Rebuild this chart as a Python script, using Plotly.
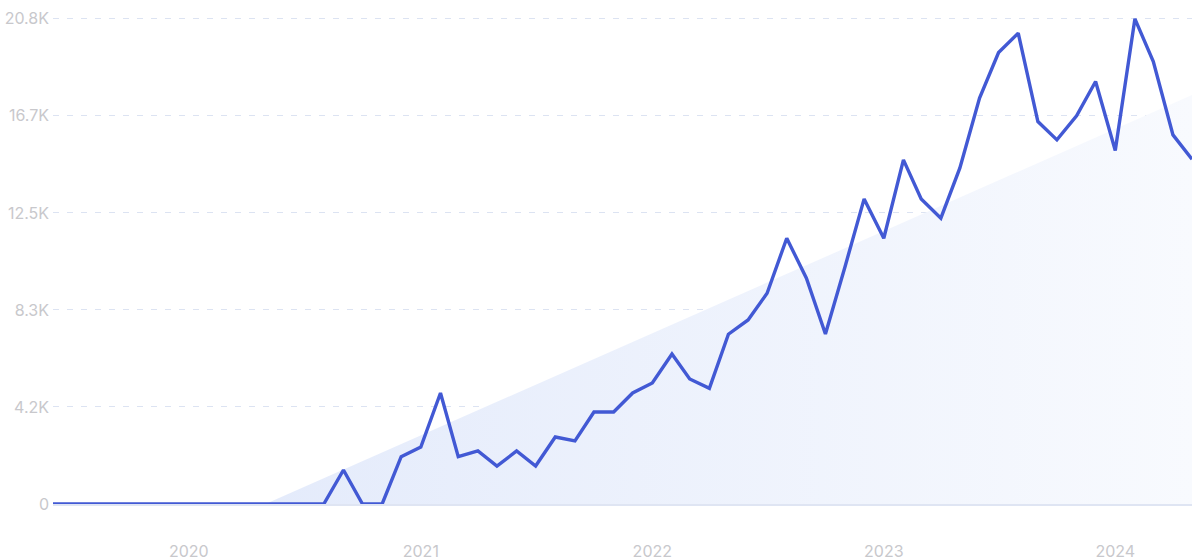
import plotly.graph_objects as go
import pandas as pd

# Monthly values, June 2019 .. May 2024
months = pd.date_range("2019-06-01", "2024-05-01", freq="MS").strftime("%Y-%m-%d").tolist()
values = [
    0, 0, 0, 0, 0, 0, 0,            # Jun-Dec 2019
    0, 0, 0, 0, 0, 0, 0, 0,         # Jan-Aug 2020
    1460, 0, 0, 2030,               # Sep-Dec 2020
    2447, 4765, 2030, 2275, 1631, 2275, 1631, 2876, 2705, 3950, 3950, 4765,   # 2021
    5194, 6440, 5366, 4966, 7285, 7899, 9045, 11406, 9690, 7298, 10196, 13094,  # 2022
    11406, 14768, 13094, 12265, 14425, 17417, 19376, 20206, 16412, 15627, 16657, 18130,  # 2023
    15168, 20820, 18988, 15841, 14798,   # Jan-May 2024
]

# Trend (linear fit, clipped at zero)
trend_x = ["2020-05-01", "2024-05-01", "2024-05-01"]
trend_y = [0, 17550, 0]

y_tickvals = [0, 4164, 8328, 12492, 16656, 20820]
y_ticktext = ["0", "4.2K", "8.3K", "12.5K", "16.7K", "20.8K"]
x_tickvals = ["2020-01-01", "2021-01-01", "2022-01-01", "2023-01-01", "2024-01-01"]
x_ticktext = ["2020", "2021", "2022", "2023", "2024"]

fig = go.Figure()
fig.add_trace(go.Scatter(
    x=trend_x, y=trend_y, mode="lines", fill="toself",
    line=dict(width=0, color="rgba(0,0,0,0)"),
    fillgradient=dict(type="horizontal",
                      colorscale=[[0, "#e4ebfb"], [1, "#f8fafe"]]),
    hoverinfo="skip", showlegend=False,
))
fig.add_trace(go.Scatter(
    x=months, y=values, mode="lines",
    line=dict(color="#4259d4", width=3.4),
    showlegend=False,
))

tick_font = dict(family="Inter, sans-serif", size=16, color="#c8c8cc")
fig.update_layout(
    width=1200, height=560,
    margin=dict(l=53, r=8, t=17, b=56),
    plot_bgcolor="white", paper_bgcolor="white",
    xaxis=dict(
        type="date", range=["2019-06-01", "2024-05-01"],
        tickvals=x_tickvals, ticktext=x_ticktext,
        showgrid=False, zeroline=False, automargin=False,
        showline=True, linecolor="#dfe5f3", linewidth=1.5,
        ticks="", ticklabelstandoff=32, tickfont=tick_font,
    ),
    yaxis=dict(
        range=[0, 20900], automargin=False,
        tickvals=y_tickvals, ticktext=y_ticktext,
        showgrid=True, gridcolor="#dce3f2", gridwidth=1, griddash="6px,8px",
        zeroline=False, showline=False,
        ticks="", ticklabelstandoff=3, tickfont=tick_font,
    ),
)

fig.write_html(
    "out.html",
    config={"displayModeBar": False},
    post_script="document.body.style.margin='0';document.body.style.overflow='hidden';",
)
